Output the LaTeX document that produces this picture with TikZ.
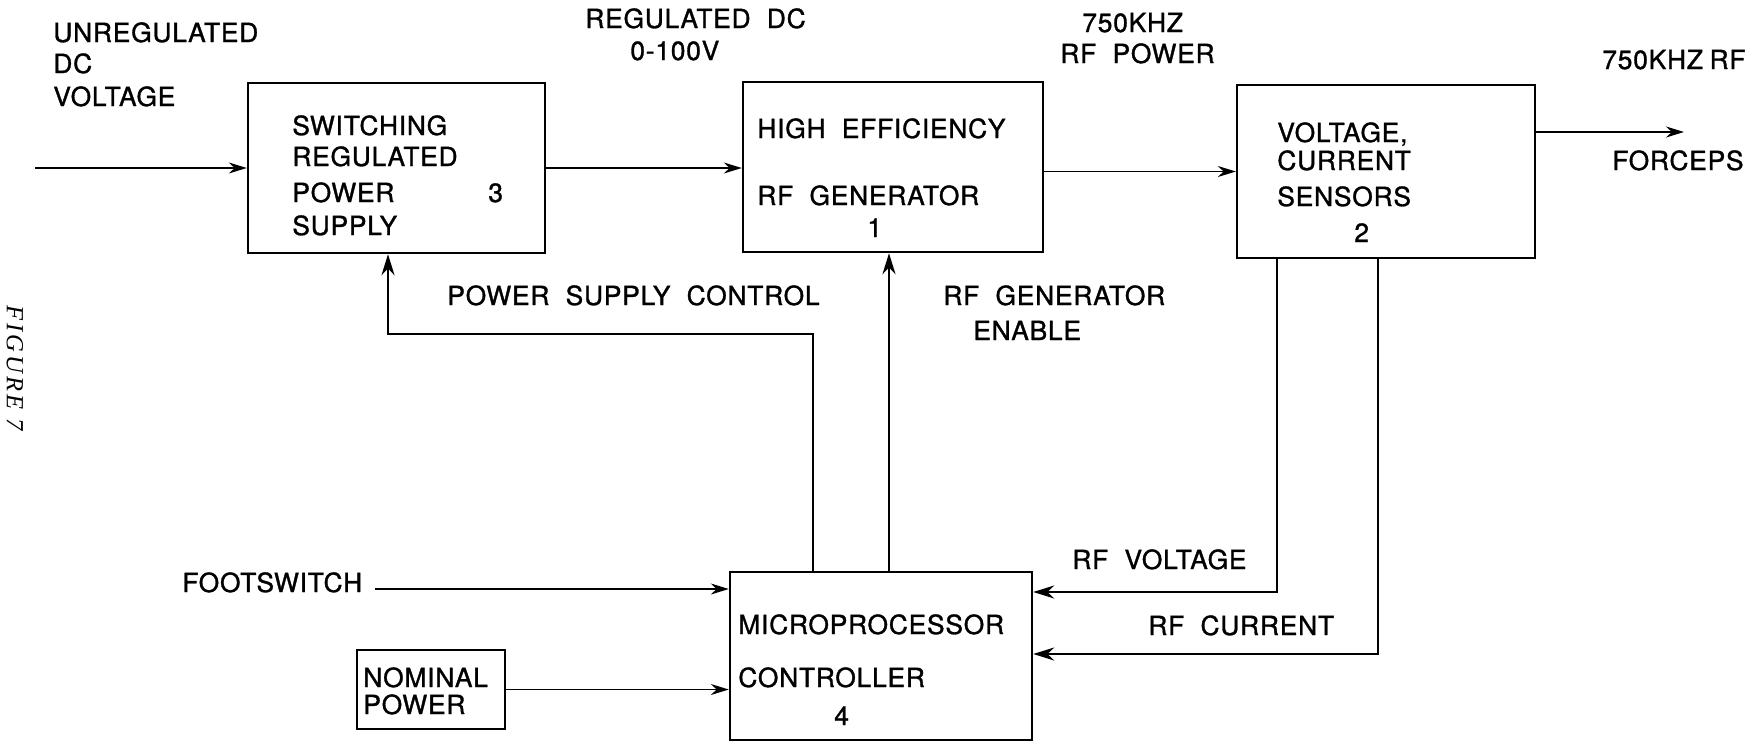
\documentclass[tikz,border=0pt]{standalone}
\usepackage{fontspec}
\setmainfont{TeX Gyre Heros}[LetterSpace=3,FakeBold=1.2,WordSpace=2]
\newfontfamily\figfont{Liberation Serif}[LetterSpace=12]
\usetikzlibrary{arrows.meta}
\begin{document}
\begin{tikzpicture}[x=0.02cm,y=-0.02cm,
  blk/.style={draw,line width=1.4pt,inner sep=0,fill=none},
  lbl/.style={anchor=base west,inner sep=0,font=\fontsize{15}{18}\selectfont},
  sig/.style={-{Stealth[length=0.36cm,width=0.22cm]},line width=1pt},
  ctl/.style={-{Stealth[length=0.42cm,width=0.26cm]},line width=1.5pt}]
\useasboundingbox (0,0) rectangle (1758,745);

% blocks
\node[blk,minimum width=5.94cm,minimum height=3.40cm] (b3) at (396.5,168) {};
\node[blk,minimum width=6.00cm,minimum height=3.40cm] (b1) at (893,167) {};
\node[blk,minimum width=5.96cm,minimum height=3.46cm] (b2) at (1386,171.5) {};
\node[blk,minimum width=6.04cm,minimum height=3.36cm] (b4) at (881,656) {};
\node[blk,minimum width=2.96cm,minimum height=1.58cm] (nom) at (431,689.5) {};

% block texts
\node[lbl] (t3a) at (292,135) {SWITCHING};
\node[lbl] (t3b) at (292,166) {REGULATED};
\node[lbl] (t3c) at (292,202) {POWER};
\node[lbl] (t3d) at (292,235) {SUPPLY};
\node[lbl] (t3n) at (488,202) {3};
\node[lbl] (t1a) at (757,138) {HIGH EFFICIENCY};
\node[lbl] (t1b) at (757,205) {RF GENERATOR};
\node[lbl] (t1n) at (867,237) {1};
\node[lbl] (t2a) at (1277,142) {VOLTAGE,};
\node[lbl] (t2b) at (1277,170) {CURRENT};
\node[lbl] (t2c) at (1277,206) {SENSORS};
\node[lbl] (t2n) at (1354,242) {2};
\node[lbl] (t4a) at (738,634) {MICROPROCESSOR};
\node[lbl] (t4b) at (738,687) {CONTROLLER};
\node[lbl] (t4n) at (834,725) {4};
\node[lbl] (tna) at (363,687) {NOMINAL};
\node[lbl] (tnb) at (363,714) {POWER};

% free labels
\node[lbl] (u1) at (53,42) {UNREGULATED};
\node[lbl] (u2) at (53,73) {DC};
\node[lbl] (u3) at (53,106) {VOLTAGE};
\node[lbl] (r1) at (585,28) {REGULATED DC};
\node[lbl] (r2) at (630,60) {0-100V};
\node[lbl] (p1) at (1082,32) {750KHZ};
\node[lbl] (p2) at (1060,63) {RF POWER};
\node[lbl] (o1) at (1602,69) {750KHZ\hspace{0.25em}RF};
\node[lbl] (o2) at (1612,170) {FORCEPS};
\node[lbl] (psc) at (447,305) {POWER SUPPLY CONTROL};
\node[lbl] (en1) at (943,305) {RF GENERATOR};
\node[lbl] (en2) at (973,340) {ENABLE};
\node[lbl] (rv) at (1072,569) {RF VOLTAGE};
\node[lbl] (rc) at (1148,635) {RF CURRENT};
\node[lbl] (fs) at (182,592) {FOOTSWITCH};
\node[rotate=-90,inner sep=0,font=\figfont\itshape\fontsize{14}{16}\selectfont] (fig) at (15,368) {FIGURE 7};

% coordinates
\coordinate (in) at (35,168);
\coordinate (out) at (1684,132);
\coordinate (pscx) at (813,334);
\coordinate (pscl) at (388,334);
\coordinate (enx) at (889,400);
\coordinate (vx) at (1277,592);
\coordinate (cx) at (1378,654);
\coordinate (fsl) at (375,589);

% connectors
\draw[sig] (in) -- (in -| b3.west);
\draw[sig] (b3.east) -- (b3.east -| b1.west);
\draw[sig] (b1.east |- b2.west) -- (b2.west);
\draw[sig] (b2.east |- out) -- (out);
\draw[ctl] (b4.north -| pscx) |- (pscl) -- (pscl |- b3.south);
\draw[ctl] (b4.north -| enx) -- (enx |- b1.south);
\draw[ctl] (b2.south -| vx) |- (vx -| b4.east);
\draw[ctl] (b2.south -| cx) |- (cx -| b4.east);
\draw[sig] (fsl) -- (fsl -| b4.west);
\draw[sig] (nom.east) -- (nom.east -| b4.west);
\end{tikzpicture}
\end{document}
